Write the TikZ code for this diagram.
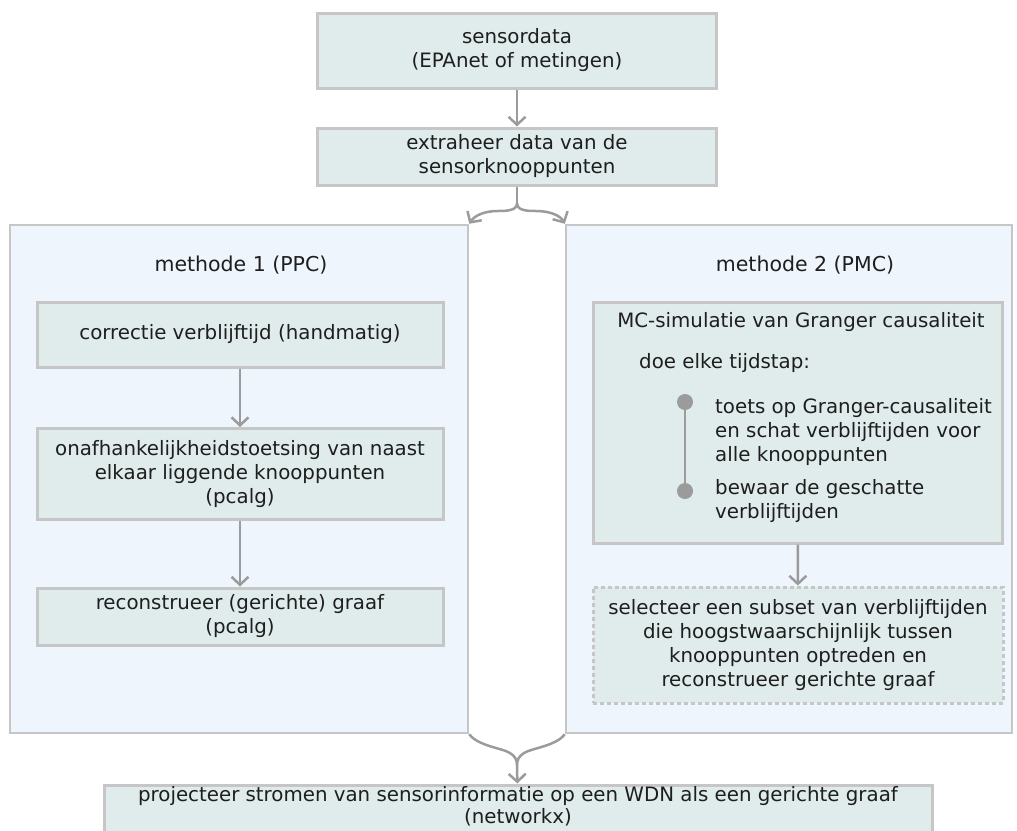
\documentclass[tikz,border=0pt]{standalone}
\usepackage{fontspec}
\setmainfont{DejaVu Sans}
\usepackage{tikz}
\usetikzlibrary{arrows.meta, positioning, calc}

\definecolor{stapvul}{HTML}{DFECEB}
\definecolor{paneelvul}{HTML}{EEF5FD}
\definecolor{rand}{HTML}{C6C6C6}
\definecolor{pijlgrijs}{HTML}{9B9B9B}
\definecolor{tekst}{HTML}{1E1E1E}

\begin{document}
\begin{tikzpicture}[x=1pt, y=-1pt, >={Straight Barb[length=8pt, width=17pt]},
    stap/.style={draw=rand, line width=3pt, fill=stapvul, align=center, inner sep=0pt,
        text=tekst, font=\fontsize{19.8}{24}\selectfont},
    paneel/.style={draw=rand, line width=2.5pt, fill=paneelvul, inner sep=0pt},
    titel/.style={text=tekst, font=\fontsize{20.5}{24}\selectfont},
    lijst/.style={text=tekst, align=left, inner sep=0pt, font=\fontsize{19.8}{24}\selectfont},
    stip/.style={circle, fill=pijlgrijs, minimum size=16pt, inner sep=0pt},
    lijn/.style={draw=pijlgrijs, line width=2.5pt},
    pijl/.style={lijn, ->}]
    \useasboundingbox (0,0) rectangle (1017,830);

    % Input
    \node[stap, minimum width=399, minimum height=75] (sens) at (517,50.5) {sensordata\\(EPAnet of metingen)};
    \node[stap, minimum width=399, minimum height=57] (extr) at (517,156.5) {extraheer data van de\\sensorknooppunten};
    \draw[pijl] (sens) -- (extr);

    % Two method panels
    \node[paneel, minimum width=458, minimum height=508] (meth1) at (239,479) {};
    \node[paneel, minimum width=446, minimum height=508] (meth2) at (789,479) {};
    \node[titel] (titel1) at (241,265) {methode 1 (PPC)};
    \node[titel] (titel2) at (805,265) {methode 2 (PMC)};

    % Methode 1
    \node[stap, minimum width=406, minimum height=65] (corr) at (240,334.5) {correctie verblijftijd (handmatig)};
    \node[stap, minimum width=406, minimum height=91] (onaf) at (240,474) {onafhankelijkheidstoetsing van naast\\elkaar liggende knooppunten\\(pcalg)};
    \node[stap, minimum width=406, minimum height=57] (recon) at (240,616.5) {reconstrueer (gerichte) graaf\\(pcalg)};
    \draw[pijl] (corr) -- (onaf);
    \draw[pijl] (onaf) -- (recon);

    % Methode 2
    \node[stap, minimum width=409, minimum height=241] (mcsim) at (797.5,422.5) {};
    \node[lijst] (mctitel) at (801,322) {MC-simulatie van Granger causaliteit};
    \node[lijst, anchor=west] (doe) at (639,363) {doe elke tijdstap:};
    \node[stip] (stip1) at (685,402) {};
    \node[stip] (stip2) at (685,491) {};
    \draw[lijn] (stip1.center) -- (stip2.center);
    \node[lijst, anchor=west] (toets) at (715,432) {toets op Granger-causaliteit\\en schat verblijftijden voor\\alle knooppunten};
    \node[lijst, anchor=west] (bewaar) at (715,501) {bewaar de geschatte\\verblijftijden};
    \node[stap, draw=rand, dash pattern=on 4pt off 3pt, minimum width=410, minimum height=116] (selec) at (798,645)
        {selecteer een subset van verblijftijden\\die hoogstwaarschijnlijk tussen\\knooppunten optreden en\\reconstrueer gerichte graaf};
    \draw[pijl] (mcsim) -- (selec);

    % Output
    \node[stap, minimum width=828, minimum height=52] (proj) at (518,811) {};
    \node[lijst, align=center, font=\fontsize{19.8}{22}\selectfont] (projtekst) at (518,806.5)
        {projecteer stromen van sensorinformatie op een WDN als een gerichte graaf\\(networkx)};

    % Braces
    \coordinate (splits) at (517,203);
    \coordinate (samen) at (517,765);
    \draw[lijn] (extr.south) -- (splits);
    \draw[pijl] (splits) .. controls (517,210) and (509,211) .. (498,211) .. controls (485,211) and (475,215) .. (meth1.north east);
    \draw[pijl] (splits) .. controls (517,210) and (525,211) .. (536,211) .. controls (549,211) and (560,215) .. (meth2.north west);
    \draw[lijn] (meth1.south east) .. controls (478,746) and (502,748) .. (510,753) .. controls (515,756) and (517,760) .. (samen);
    \draw[lijn] (meth2.south west) .. controls (556,746) and (532,748) .. (524,753) .. controls (519,756) and (517,760) .. (samen);
    \draw[pijl] (samen) -- (proj);
\end{tikzpicture}
\end{document}
